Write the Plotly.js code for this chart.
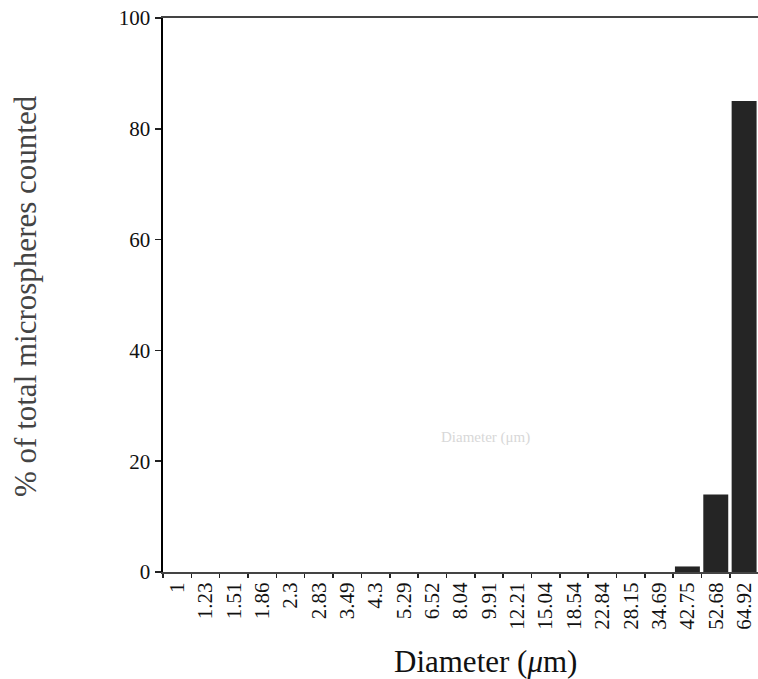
<!DOCTYPE html>
<html>
<head>
<meta charset="utf-8">
<script src="https://cdn.plot.ly/plotly-3.0.1.min.js"></script>
<style>html,body{margin:0;padding:0;background:#fff;}#chart{width:758px;height:679px;}</style>
</head>
<body>
<div id="chart"></div>
<script>
const categories = ["1","1.23","1.51","1.86","2.3","2.83","3.49","4.3","5.29","6.52","8.04","9.91","12.21","15.04","18.54","22.84","28.15","34.69","42.75","52.68","64.92"];
const percentCounted = [0,0,0,0,0,0,0,0,0,0,0,0,0,0,0,0,0,0,1,14,85];
const yTicks = [0,20,40,60,80,100];

const serif = "Liberation Serif, Times New Roman, serif";

const trace = {
  type: "bar",
  x: categories,
  y: percentCounted,
  marker: {color: "#252525", line: {width: 0}},
  hoverinfo: "x+y"
};

const layout = {
  width: 758,
  height: 679,
  margin: {l: 163, r: 0, t: 18, b: 107},
  paper_bgcolor: "#ffffff",
  plot_bgcolor: "#ffffff",
  showlegend: false,
  bargap: 0.12,
  xaxis: {
    type: "category",
    range: [-0.5, 20.49],
    tickson: "boundaries",
    ticks: "outside",
    ticklen: 4,
    tickwidth: 1.5,
    tickcolor: "#222",
    tickangle: -90,
    tickfont: {family: serif, size: 21, color: "#111"},
    showline: true,
    linecolor: "#444",
    linewidth: 2,
    mirror: true,
    showgrid: false,
    zeroline: false,
    automargin: false
  },
  yaxis: {
    range: [0, 100],
    tickvals: yTicks,
    ticktext: yTicks.map(String),
    ticks: "outside",
    ticklen: 6,
    tickwidth: 1.5,
    tickcolor: "#222",
    tickfont: {family: serif, size: 21, color: "#111"},
    showline: true,
    linecolor: "#000",
    linewidth: 2.5,
    showgrid: false,
    zeroline: false,
    automargin: false
  },
  annotations: [
    {
      text: "% of total microspheres counted",
      xref: "paper", yref: "paper",
      x: (25 - 163) / 595, y: (572 - 296) / 554,
      xanchor: "center", yanchor: "middle",
      textangle: -90,
      showarrow: false,
      font: {family: serif, size: 31, color: "#444"}
    },
    {
      text: "Diameter (<i>μ</i>m)",
      xref: "paper", yref: "paper",
      x: (485 - 163) / 595, y: (572 - 661) / 554,
      xanchor: "center", yanchor: "middle",
      showarrow: false,
      font: {family: serif, size: 31, color: "#111"}
    },
    {
      text: "Diameter (μm)",
      xref: "paper", yref: "paper",
      x: (485 - 163) / 595, y: (572 - 437) / 554,
      xanchor: "center", yanchor: "middle",
      showarrow: false,
      font: {family: serif, size: 15, color: "#d8d8d8"}
    }
  ]
};

Plotly.newPlot("chart", [trace], layout, {displayModeBar: false, staticPlot: true});
</script>
</body>
</html>
